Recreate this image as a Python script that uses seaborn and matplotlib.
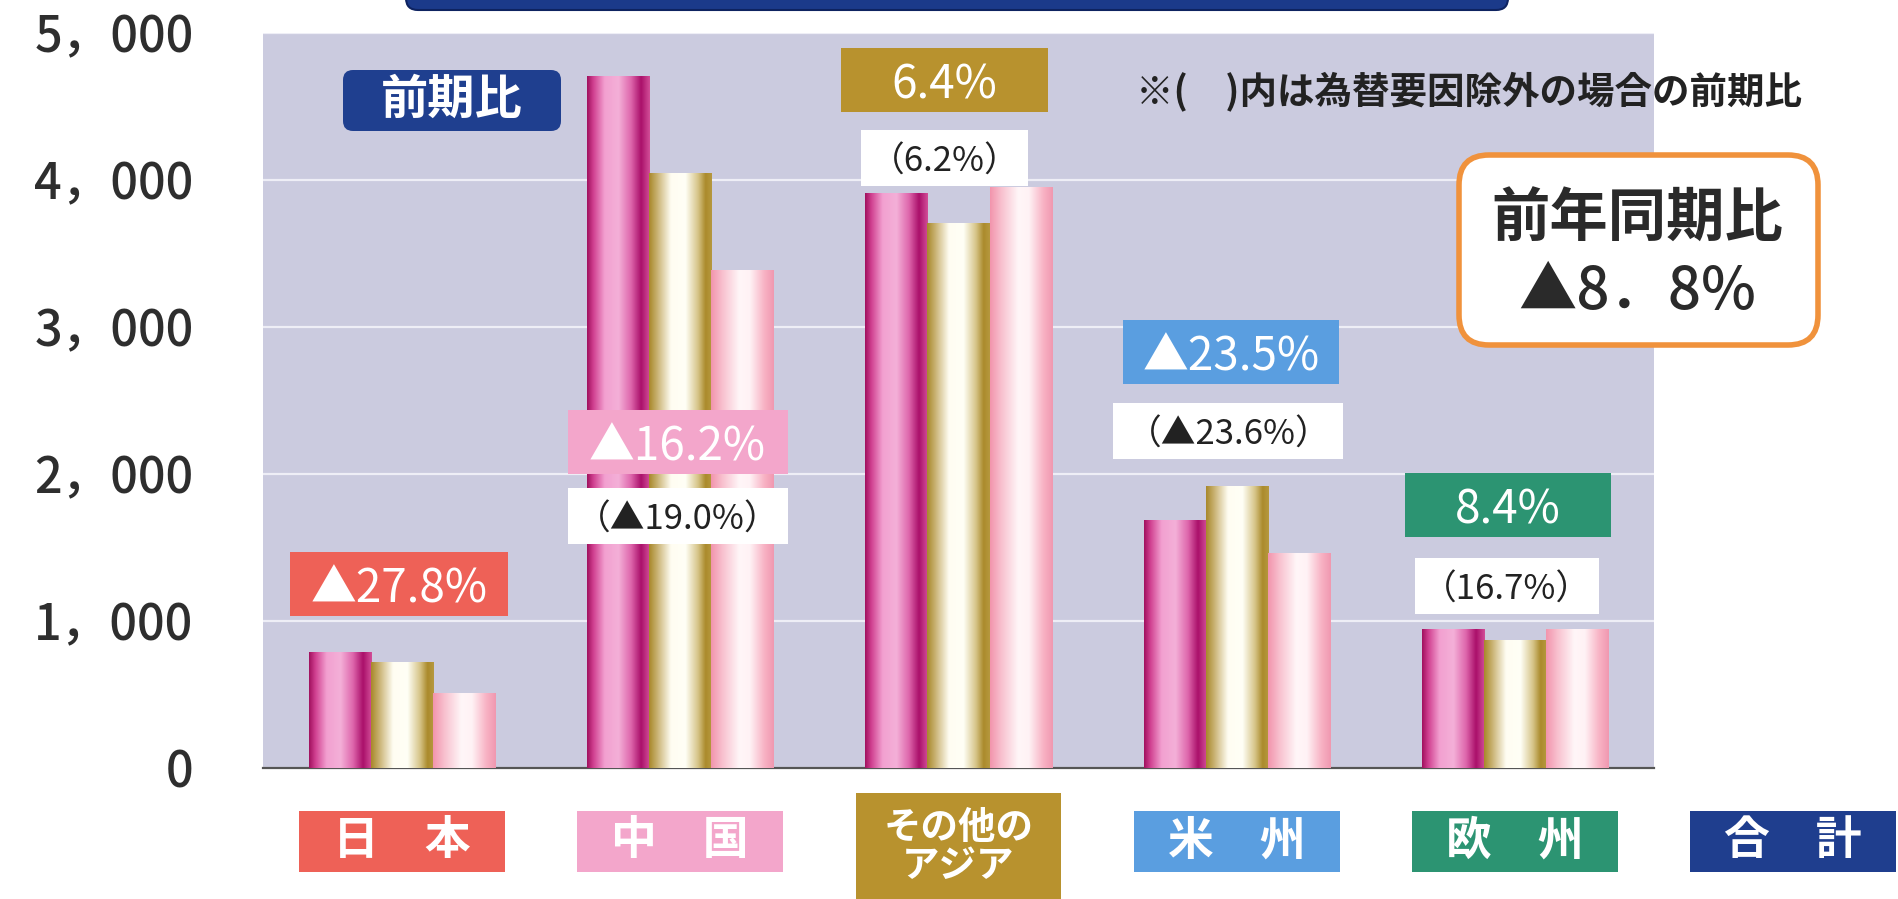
import numpy as np
import pandas as pd
import matplotlib
matplotlib.use('Agg')
import matplotlib.pyplot as plt
import seaborn as sns
from matplotlib.colors import LinearSegmentedColormap
from matplotlib.patches import Rectangle, FancyBboxPatch
from matplotlib.transforms import blended_transform_factory

sns.set_theme(style='white')
plt.rcParams['font.family'] = ['Noto Sans CJK JP', 'DejaVu Sans']

# ---------------- data ----------------
regions = ['日本', '中国', 'その他のアジア', '米州', '欧州']
periods = ['前年同期', '前期', '当期']
prev_year = [790, 4710, 3910, 1690, 945]
prev_term = [720, 4045, 3705, 1915, 870]
current = [510, 3385, 3955, 1465, 945]

change_labels = ['▲27.8%', '▲16.2%', '6.4%', '▲23.5%', '8.4%']
fx_labels = ['', '（▲19.0%）', '（6.2%）', '（▲23.6%）', '（16.7%）']
region_labels = ['日　本', '中　国', 'その他の\nアジア', '米　州', '欧　州', '合　計']
total_label = '前年同期比\n▲8．8%'
note = '※(　)内は為替要因除外の場合の前期比'

df = pd.DataFrame({
    '地域': regions * 3,
    '期間': np.repeat(periods, len(regions)),
    '売上': prev_year + prev_term + current,
})

# ---------------- style ----------------
region_colors = ['#EE6157', '#F3A6CB', '#B8922E', '#5A9EE0', '#2C9472', '#1F3E8E']
bar_base = ['#D0408F', '#C8B070', '#F7B8C8']
gradients = [
    LinearSegmentedColormap.from_list('mag', [(0, '#A0105E'), (0.1, '#D04090'), (0.28, '#F2A0D0'),
                                              (0.5, '#F4B0D8'), (0.7, '#DE66AC'), (0.86, '#AA106A'),
                                              (1, '#D24E98')]),
    LinearSegmentedColormap.from_list('gold', [(0, '#A8882A'), (0.12, '#C6AE6C'), (0.35, '#FFFDF2'),
                                               (0.58, '#FFFFF6'), (0.78, '#D6C488'), (0.9, '#AB8B2C'),
                                               (1, '#B6983F')]),
    LinearSegmentedColormap.from_list('pink', [(0, '#F294AC'), (0.18, '#F8C0CE'), (0.45, '#FFF6F8'),
                                               (0.62, '#FFF2F5'), (0.85, '#F8B2C4'), (1, '#F098B0')]),
]

W, H = 1899, 899
fig = plt.figure(figsize=(W / 100, H / 100), dpi=100)
fig.patch.set_facecolor('white')
ax = fig.add_axes([263 / W, 1 - 768 / H, (1654 - 263) / W, (768 - 33) / H])
ax.set_facecolor('#CBCBDF')

sns.barplot(data=df, x='地域', y='売上', hue='期間', palette=bar_base, width=0.67,
            saturation=1, legend=False, edgecolor='none', ax=ax, zorder=2)

# gradient fill for each bar
ramp = np.linspace(0, 1, 256)[np.newaxis, :]
for container, cmap in zip(ax.containers, gradients):
    for patch in container:
        x0, w, h = patch.get_x(), patch.get_width(), patch.get_height()
        img = ax.imshow(ramp, cmap=cmap, extent=[x0, x0 + w, 0, h], aspect='auto',
                        interpolation='bilinear', zorder=3)
        img.set_clip_path(patch)

ax.set_xlim(-0.5, 4.5)
ax.set_ylim(0, 5000)
ax.set_aspect('auto')

ax.set_yticks(range(0, 5001, 1000))
ax.set_yticklabels([f'{v:,}'.replace(',', '，') for v in range(0, 5001, 1000)])
ax.tick_params(axis='y', length=0, pad=50, labelsize=35, labelcolor='#2E2E2E')
for lab in ax.get_yticklabels():
    lab.set_fontweight('medium')
ax.yaxis.grid(True, color='#EEEEF6', linewidth=1.6)
ax.set_axisbelow(True)

ax.set_xticks([])
ax.set_xticks(np.arange(-0.5, 5, 1), minor=True)
ax.tick_params(axis='x', which='minor', direction='in', length=9, width=1.2, color='#555555')
ax.set_xlabel('')
ax.set_ylabel('')
for side in ['top', 'right', 'left']:
    ax.spines[side].set_visible(False)
ax.spines['bottom'].set_color('#555555')
ax.spines['bottom'].set_linewidth(1.6)

cat_px = (1654 - 263) / 5
unit_px = (768 - 33) / 5000


def label_box(xc, yc, wpx, hpx, text, fc, tc, size):
    ax.add_patch(Rectangle((xc - wpx / cat_px / 2, yc - hpx / unit_px / 2), wpx / cat_px, hpx / unit_px,
                           facecolor=fc, edgecolor='none', zorder=5, clip_on=False))
    ax.text(xc, yc, text, ha='center', va='center_baseline', color=tc, fontsize=size, zorder=6)


# percent change boxes (colored) and fx-excluded boxes (white)
chg_pos = [(-0.01, 1255, 218), (0.99, 2218, 220), (1.95, 4680, 207), (2.98, 2830, 216), (3.975, 1790, 206)]
fx_pos = [None, (0.99, 1714, 220), (1.95, 4150, 167), (2.97, 2290, 230), (3.97, 1235, 184)]
for i, (xc, yc, wpx) in enumerate(chg_pos):
    label_box(xc, yc, wpx, 64, change_labels[i], region_colors[i], 'white', 33)
for i, pos in enumerate(fx_pos):
    if pos is None:
        continue
    xc, yc, wpx = pos
    label_box(xc, yc, wpx, 56, fx_labels[i], 'white', '#222222', 25)

# region labels under the axis
bt = blended_transform_factory(ax.transData, ax.transAxes)
for i, (lab, col) in enumerate(zip(region_labels, region_colors)):
    if '\n' in lab:
        y0, y1, fs = -0.18, -0.034, 27
    else:
        y0, y1, fs = -0.1415, -0.0585, 33
    ax.add_patch(Rectangle((i - 0.37, y0), 0.74, y1 - y0, transform=bt, facecolor=col,
                           edgecolor='none', clip_on=False, zorder=5))
    ax.text(i, (y0 + y1) / 2, lab, transform=bt, ha='center', va='center', color='white',
            fontsize=fs, fontweight='bold', linespacing=0.95, clip_on=False, zorder=6)

# top title bar (cut off), 前期比 tag, note and total box
inch = fig.dpi_scale_trans
fig.patches.append(FancyBboxPatch((4.06, 8.89), 11.02, 0.5, boxstyle='round,pad=0,rounding_size=0.12',
                                  transform=inch, facecolor='#1B3A8A', edgecolor='#0E2360', linewidth=1.5))
fig.patches.append(FancyBboxPatch((3.43, 7.68), 2.18, 0.61, boxstyle='round,pad=0,rounding_size=0.1',
                                  transform=inch, facecolor='#1F3F8F', edgecolor='none'))
fig.text(4.52, 7.99, '前期比', transform=inch, ha='center', va='center', color='white',
         fontsize=34, fontweight='bold')
fig.text(11.36, 8.08, note, transform=inch, ha='left', va='center', color='#222222',
         fontsize=27, fontweight='bold')
fig.patches.append(FancyBboxPatch((14.59, 5.54), 3.59, 1.9, boxstyle='round,pad=0,rounding_size=0.3',
                                  transform=inch, facecolor='white', edgecolor='#F0923C', linewidth=4))
top_line, bottom_line = total_label.split('\n')
fig.text(16.37, 6.79, top_line, transform=inch, ha='center', va='center', color='#2A2A2A',
         fontsize=42, fontweight='bold')
fig.text(16.37, 6.06, bottom_line, transform=inch, ha='center', va='center', color='#2A2A2A',
         fontsize=42, fontweight='medium')

fig.savefig('out.png', dpi=100, facecolor='white')
